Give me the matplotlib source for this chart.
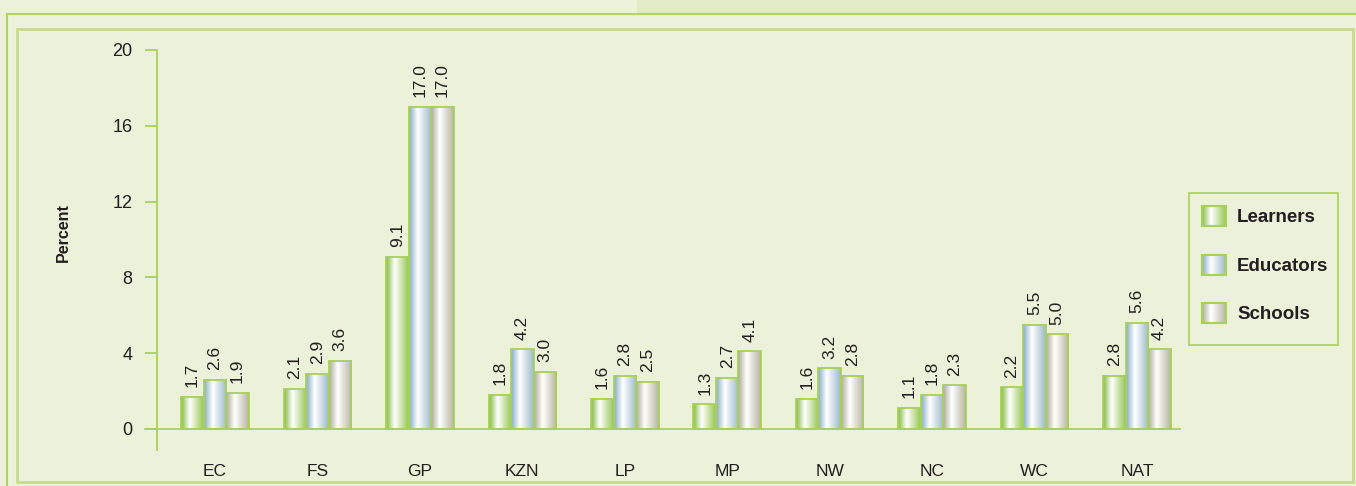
import numpy as np
import matplotlib.pyplot as plt
import matplotlib.patches as patches
from matplotlib.legend_handler import HandlerBase
from matplotlib.colors import LinearSegmentedColormap

plt.rcParams['font.family'] = ['Liberation Sans', 'DejaVu Sans']

provinces = ['EC', 'FS', 'GP', 'KZN', 'LP', 'MP', 'NW', 'NC', 'WC', 'NAT']
learners = [1.7, 2.1, 9.1, 1.8, 1.6, 1.3, 1.6, 1.1, 2.2, 2.8]
educators = [2.6, 2.9, 17.0, 4.2, 2.8, 2.7, 3.2, 1.8, 5.5, 5.6]
schools = [1.9, 3.6, 17.0, 3.0, 2.5, 4.1, 2.8, 2.3, 5.0, 4.2]
series_names = ['Learners', 'Educators', 'Schools']

bg = '#ECF1D9'
edge_green = '#A9D05A'
frame_green = '#C6DB8E'
txt = '#231F20'
# left colour, highlight, right colour for each series
shades = {
    'Learners': ['#86BC45', '#FFFFFF', '#96C656'],
    'Educators': ['#86ADC6', '#FFFFFF', '#9BBACB'],
    'Schools': ['#AEAC98', '#FFFFFF', '#B7B5A2'],
}

def make_cmap(name):
    c = shades[name]
    return LinearSegmentedColormap.from_list(name, [(0, c[0]), (0.38, c[1]), (1, c[2])])

cmaps = {n: make_cmap(n) for n in series_names}
grad = np.linspace(0, 1, 64).reshape(1, -1)


class GradientHandler(HandlerBase):
    def create_artists(self, legend, orig_handle, xdescent, ydescent,
                       width, height, fontsize, trans):
        cm = cmaps[orig_handle.get_label()]
        arts = []
        n = 24
        for i in range(n):
            r = patches.Rectangle((-xdescent + width * i / n, -ydescent), width / n + 0.3, height,
                                  facecolor=cm((i + 0.5) / n), edgecolor='none', transform=trans)
            arts.append(r)
        arts.append(patches.Rectangle((-xdescent, -ydescent), width, height, facecolor='none',
                                      edgecolor=edge_green, lw=1.5, transform=trans))
        return arts


fig = plt.figure(figsize=(13.56, 4.86), dpi=100)
fig.patch.set_facecolor(bg)

# page decoration: top strip and frames
fig.patches.append(patches.Rectangle((637 / 1356, 1 - 14 / 486), 1, 14 / 486, transform=fig.transFigure,
                                     facecolor='#E3EBC6', edgecolor='none', zorder=0))
fig.lines.append(plt.Line2D([7 / 1356, 1], [1 - 14 / 486] * 2, transform=fig.transFigure,
                            color='#B3D462', lw=1.5))
fig.lines.append(plt.Line2D([7 / 1356] * 2, [0, 1 - 14 / 486], transform=fig.transFigure,
                            color='#B3D462', lw=1.5))
fig.patches.append(patches.Rectangle((17 / 1356, 1 - 482 / 486), (1353 - 17) / 1356, (482 - 29) / 486,
                                     transform=fig.transFigure, facecolor='none',
                                     edgecolor=frame_green, lw=2, zorder=1))
# legend box
fig.patches.append(patches.Rectangle((1189 / 1356, 1 - 345 / 486), (1338 - 1189) / 1356, (345 - 193) / 486,
                                     transform=fig.transFigure, facecolor='none',
                                     edgecolor=edge_green, lw=1.2, zorder=1))

ax = fig.add_axes([157 / 1356, 1 - 450 / 486, (1181 - 157) / 1356, 400 / 486])
ax.set_facecolor('none')

x = np.arange(len(provinces))
w = 0.22
all_series = [learners, educators, schools]
for k, (name, vals) in enumerate(zip(series_names, all_series)):
    for xi, v in zip(x, vals):
        x0 = xi + (k - 1) * w - w / 2
        ax.imshow(grad, cmap=cmaps[name], extent=[x0, x0 + w, 0, v], aspect='auto',
                  interpolation='bilinear', zorder=2)
        ax.add_patch(patches.Rectangle((x0, 0), w, v, facecolor='none', edgecolor=edge_green,
                                       lw=1.3, zorder=3))
        ax.annotate(f'{v:.1f}', (x0 + w / 2, v), xytext=(0, 7), textcoords='offset points',
                    rotation=90, ha='center', va='bottom', fontsize=12.5, color=txt)

ax.set_xlim(-58 / 102.4, 9 + 44 / 102.4)
ax.set_ylim(-1.11, 20)
ax.axhline(0, color=edge_green, lw=1.3, zorder=4)
ax.plot([ax.get_xlim()[0] - 12 / 102.4, ax.get_xlim()[0]], [0, 0], color=edge_green, lw=1.3,
        clip_on=False)

for s in ['top', 'right', 'bottom']:
    ax.spines[s].set_visible(False)
ax.spines['left'].set_color(edge_green)
ax.spines['left'].set_linewidth(1.3)

ax.set_yticks([0, 4, 8, 12, 16, 20])
ax.tick_params(axis='y', direction='out', length=8.6, width=1.3, color=edge_green,
               labelsize=13, labelcolor=txt, pad=9)
ax.set_xticks(x)
ax.set_xticklabels(provinces)
ax.tick_params(axis='x', length=0, labelsize=12.5, labelcolor=txt, pad=10)
ax.set_ylabel('Percent', fontsize=11.5, fontweight='bold', color=txt)
ax.yaxis.set_label_coords(-0.084, 0.5425)

handles = [patches.Patch(label=n) for n in series_names]
leg = fig.legend(handles=handles, handler_map={patches.Patch: GradientHandler()},
                 loc='upper left', bbox_to_anchor=(1202 / 1356, 1 - 206 / 486),
                 borderaxespad=0, frameon=False, borderpad=0,
                 prop={'weight': 'bold', 'size': 13.5}, handlelength=1.28, handleheight=1.28,
                 labelspacing=1.5, handletextpad=0.6)
for t in leg.get_texts():
    t.set_color(txt)

fig.savefig('out.png', dpi=100, facecolor=bg)
